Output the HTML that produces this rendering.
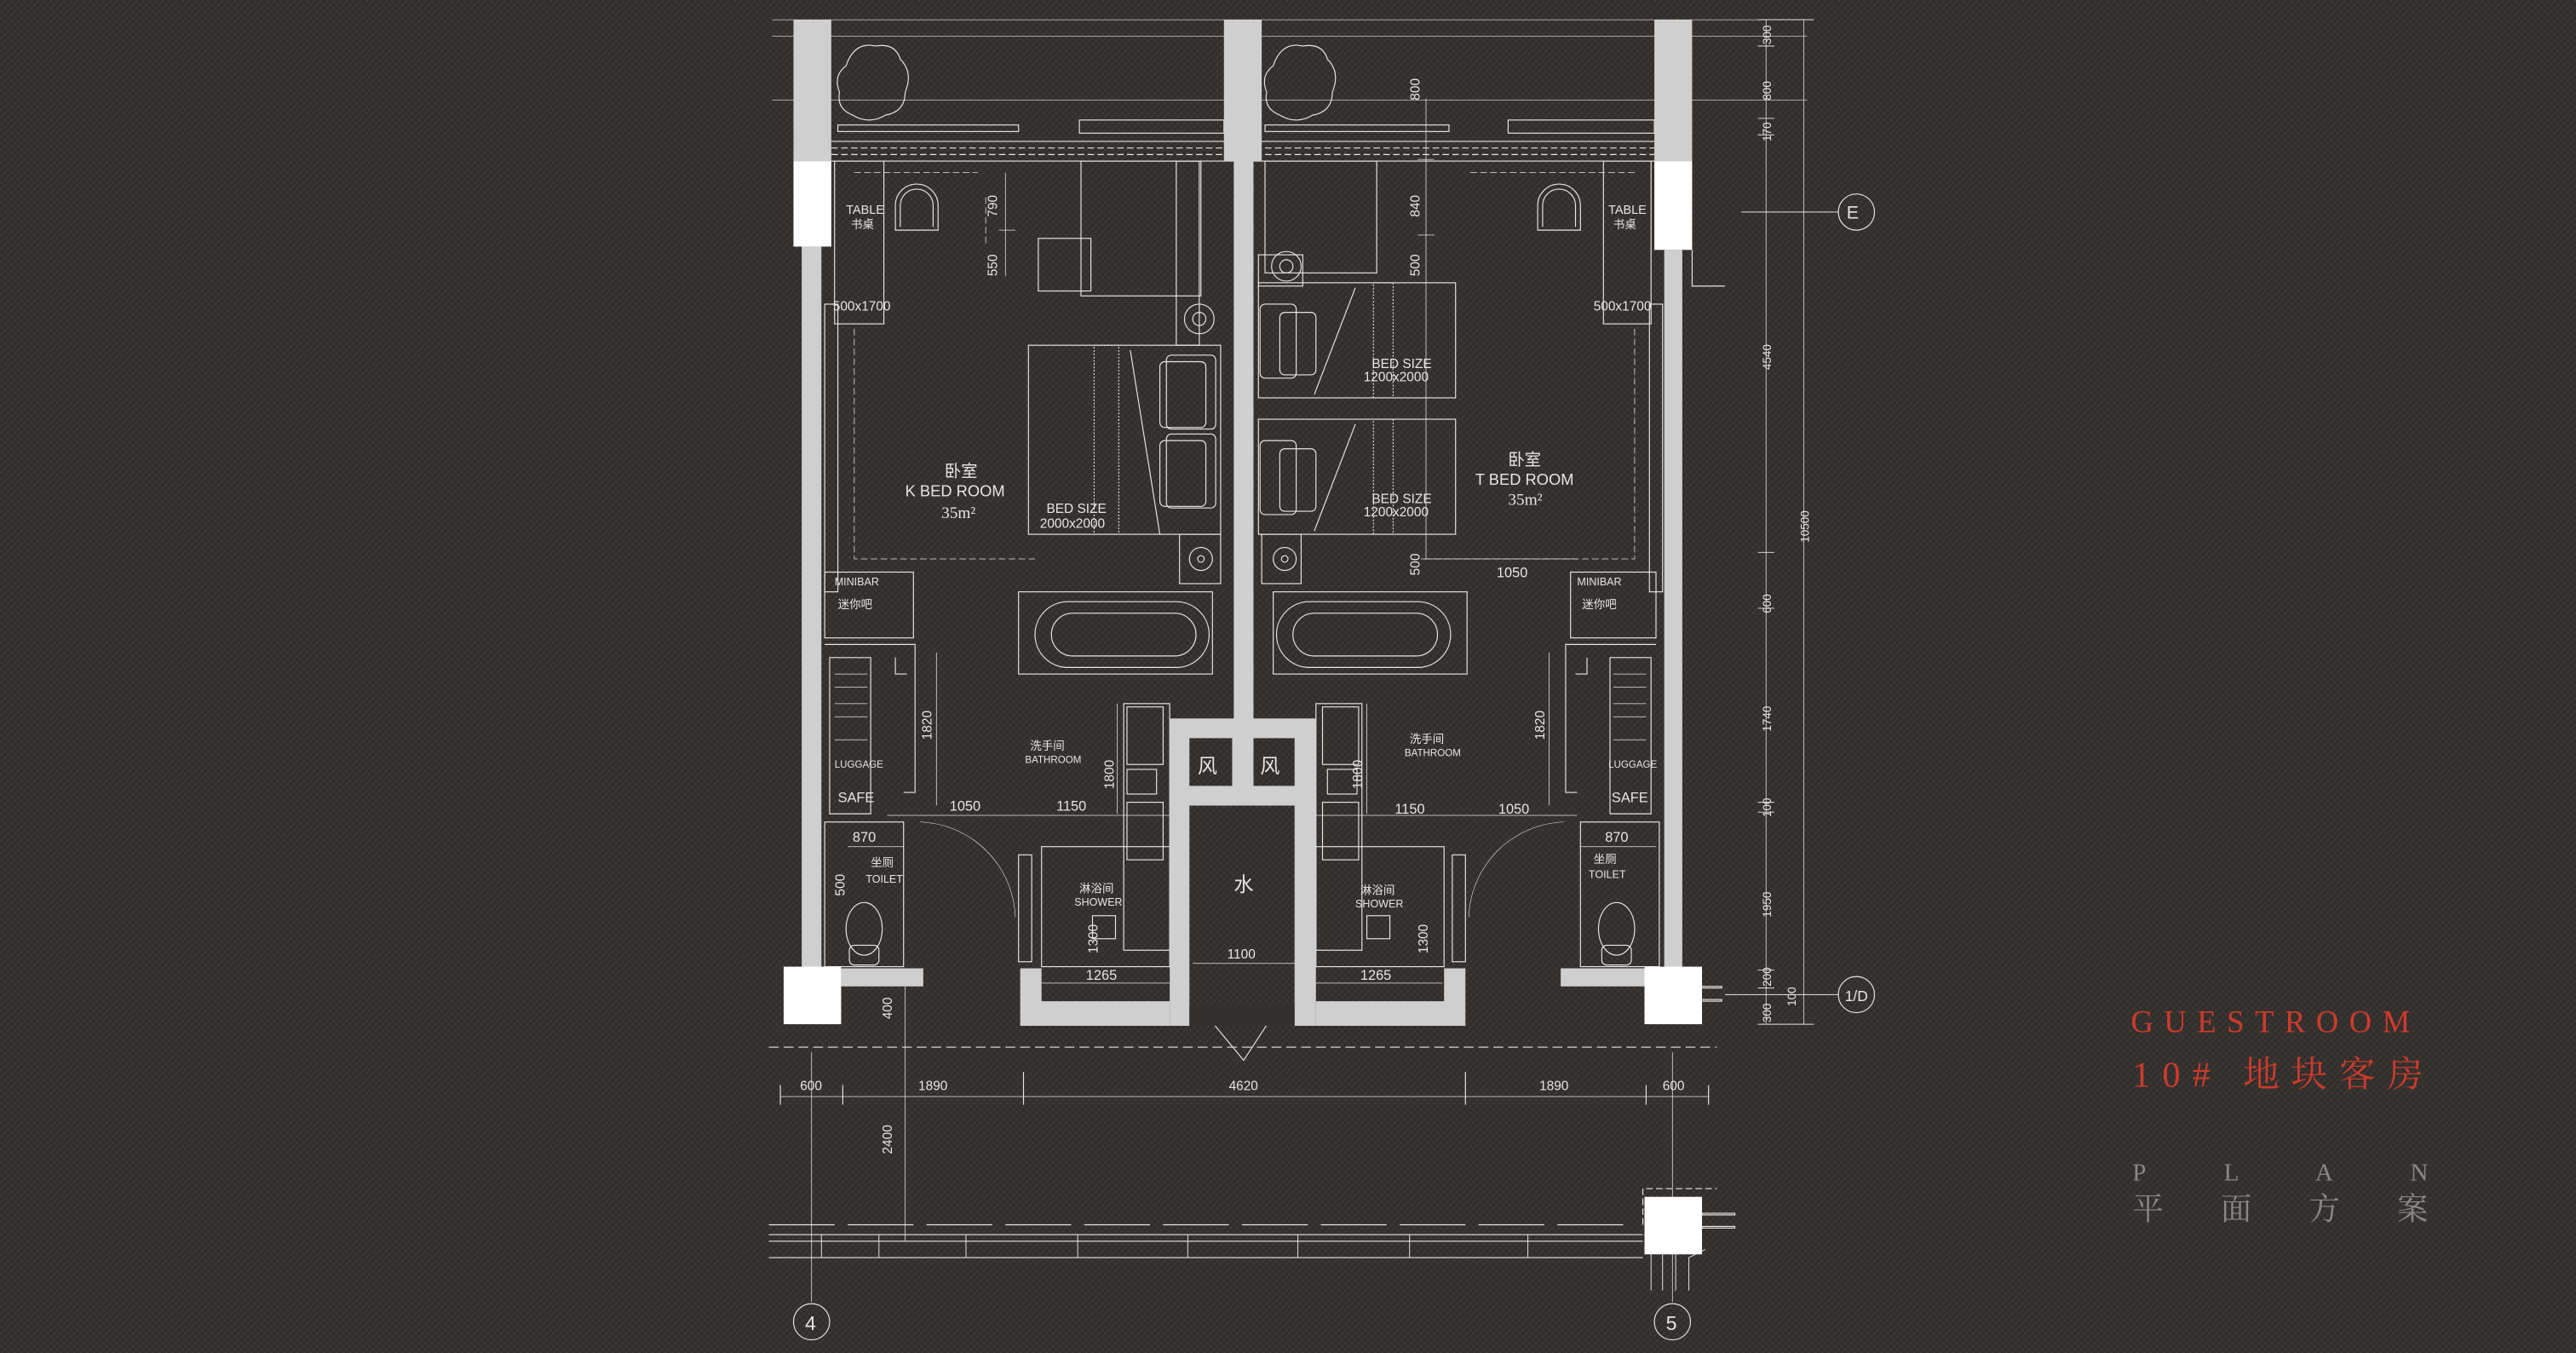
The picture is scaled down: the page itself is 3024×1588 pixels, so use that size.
<!DOCTYPE html>
<html><head><meta charset="utf-8"><style>
html,body{margin:0;padding:0;background:#34302e;}
svg{display:block;}
text{font-family:"Liberation Sans","Noto Sans CJK SC",sans-serif;fill:#e6e6e6;}
.s{font-family:"Liberation Serif","Noto Serif CJK SC",serif;}
</style></head><body>
<svg width="3024" height="1588" viewBox="0 0 1568 823" preserveAspectRatio="none" xmlns="http://www.w3.org/2000/svg">
<defs>
<pattern id="tx" width="4" height="4" patternUnits="userSpaceOnUse">
<rect width="4" height="4" fill="#34302e"/>
<path d="M0 4L4 0" stroke="#3e3a37" stroke-width="0.8"/>
<path d="M0 0L4 4" stroke="#2c2927" stroke-width="0.5"/>
</pattern>
</defs>
<rect width="1568" height="823" fill="url(#tx)"/>

<g stroke="#e6e6e6" stroke-width="0.6" fill="none">
<line x1="470" y1="12" x2="1100" y2="12" stroke-width="0.3"/>
<line x1="470" y1="22" x2="1100" y2="22" stroke-width="0.3"/>
<line x1="470" y1="61" x2="1100" y2="61" stroke-width="0.3"/>
<line x1="506" y1="86" x2="1007" y2="86"/>
<line x1="506" y1="90" x2="1007" y2="90" stroke-dasharray="4 2"/>
<line x1="506" y1="94" x2="1007" y2="94" stroke-dasharray="4 2"/>
<line x1="506" y1="98" x2="1007" y2="98"/>
<rect x="510" y="76" width="110" height="4"/>
<rect x="657" y="73" width="88" height="8"/>
<rect x="770" y="76" width="112" height="4"/>
<rect x="918" y="73" width="89" height="8"/>
<path d="M515 40 q5-15 18-12 q12-2 15 8 q8 8 3 20 q0 12-12 14 q-10 6-20 0 q-10-4-8-14 q-4-10 4-16z"/>
<path d="M775 40 q5-15 18-12 q12-2 15 8 q8 8 3 20 q0 12-12 14 q-10 6-20 0 q-10-4-8-14 q-4-10 4-16z"/>
<rect x="508" y="98" width="30" height="99"/>
<rect x="976" y="98" width="29" height="99"/>
<path d="M545 140 v-15 a13 13 0 0 1 26 0 v15 z"/>
<path d="M548 138 v-13 a10 10 0 0 1 20 0 v13"/>
<path d="M936 140 v-15 a13 13 0 0 1 26 0 v15 z"/>
<path d="M939 138 v-13 a10 10 0 0 1 20 0 v13"/>
<path d="M520 105 h75 M600 120 v30 M520 200 V340 h110 M520 365" stroke-dasharray="4 2" stroke-width="0.4"/>
<path d="M895 105 h100 M995 200 V340 h-130" stroke-dasharray="4 2" stroke-width="0.4"/>
<rect x="658" y="98" width="73" height="82"/>
<rect x="632" y="145" width="32" height="32"/>
<rect x="716" y="98" width="14" height="112"/>
<circle cx="730" cy="194" r="9"/><circle cx="730" cy="194" r="4"/>
<rect x="770" y="98" width="68" height="68"/>
<circle cx="783" cy="162" r="9"/><circle cx="783" cy="162" r="4"/>
<rect x="766" y="155" width="27" height="19"/>
<rect x="626" y="210" width="117" height="115"/>
<rect x="666" y="210" width="15" height="115" stroke-dasharray="1 1"/>
<line x1="688" y1="213" x2="706" y2="325"/>
<rect x="706" y="220" width="28" height="40" rx="3"/>
<rect x="706" y="268" width="28" height="40" rx="3"/>
<rect x="710" y="216" width="30" height="45" rx="3"/>
<rect x="710" y="264" width="30" height="45" rx="3"/>
<rect x="718" y="325" width="25" height="30"/>
<circle cx="731" cy="340" r="7"/><circle cx="731" cy="340" r="2"/>
<rect x="766" y="172" width="120" height="70"/>
<rect x="766" y="255" width="120" height="70"/>
<rect x="836" y="172" width="12" height="70" stroke-dasharray="1 1"/>
<rect x="836" y="255" width="12" height="70" stroke-dasharray="1 1"/>
<line x1="800" y1="240" x2="825" y2="175"/>
<line x1="800" y1="323" x2="825" y2="258"/>
<rect x="767" y="185" width="22" height="45" rx="3"/>
<rect x="779" y="190" width="22" height="38" rx="3"/>
<rect x="767" y="268" width="22" height="45" rx="3"/>
<rect x="779" y="273" width="22" height="38" rx="3"/>
<rect x="768" y="325" width="24" height="30"/>
<circle cx="782" cy="340" r="7"/><circle cx="782" cy="340" r="2"/>
<rect x="502" y="185" width="8" height="175"/>
<rect x="1004" y="185" width="8" height="175"/>
<rect x="502" y="348" width="54" height="40"/>
<rect x="956" y="348" width="52" height="40"/>
<path d="M502 392 h55 v90 h-7 M545 400 v10 h7 M505 400 h25 v95 h-25z"/>
<path d="M1008 392 h-55 v90 h7 M966 400 v10 h-7 M1005 400 h-25 v95 h25z"/>
<g stroke-width="0.4">
<line x1="508" y1="410" x2="528" y2="410"/><line x1="508" y1="418" x2="528" y2="418"/><line x1="508" y1="428" x2="528" y2="428"/><line x1="508" y1="436" x2="528" y2="436"/><line x1="508" y1="450" x2="528" y2="450"/>
<line x1="982" y1="410" x2="1002" y2="410"/><line x1="982" y1="418" x2="1002" y2="418"/><line x1="982" y1="428" x2="1002" y2="428"/><line x1="982" y1="436" x2="1002" y2="436"/><line x1="982" y1="450" x2="1002" y2="450"/>
</g>
<rect x="620" y="360" width="118" height="50"/>
<rect x="630" y="366" width="106" height="40" rx="20"/>
<rect x="640" y="373" width="88" height="26" rx="13"/>
<rect x="775" y="360" width="118" height="50"/>
<rect x="777" y="366" width="106" height="40" rx="20"/>
<rect x="787" y="373" width="88" height="26" rx="13"/>
<rect x="684" y="428" width="28" height="150"/>
<rect x="686" y="430" width="22" height="35"/><rect x="686" y="488" width="22" height="35"/>
<rect x="686" y="468" width="18" height="15"/>
<rect x="801" y="428" width="28" height="150"/>
<rect x="805" y="430" width="22" height="35"/><rect x="805" y="488" width="22" height="35"/>
<rect x="808" y="468" width="18" height="15"/>
<rect x="634" y="515" width="78" height="73"/>
<rect x="665" y="557" width="14" height="14"/>
<rect x="801" y="515" width="78" height="73"/>
<rect x="832" y="557" width="14" height="14"/>
<rect x="620" y="520" width="8" height="65"/><rect x="884" y="520" width="8" height="65"/>
<rect x="502" y="500" width="48" height="88"/>
<ellipse cx="526" cy="565" rx="11" ry="16"/>
<rect x="517" y="575" width="18" height="12" rx="3"/>
<rect x="962" y="500" width="48" height="88"/>
<ellipse cx="984" cy="565" rx="11" ry="16"/>
<rect x="975" y="575" width="18" height="12" rx="3"/>
<path d="M560 500 a60 60 0 0 1 58 58" stroke-width="0.3"/>
<path d="M952 500 a60 60 0 0 0 -58 58" stroke-width="0.3"/>
<path d="M738 622 L757 645 L772 622"/>
<path d="M1030 152 v22 h20" />
<rect x="1030" y="600" width="18" height="1"/><rect x="1030" y="608" width="18" height="1"/>
<rect x="1036" y="738" width="20" height="1"/><rect x="1036" y="746" width="20" height="1"/>
<line x1="468" y1="637" x2="1045" y2="637" stroke-dasharray="6 3"/>
<line x1="468" y1="745" x2="995" y2="745" stroke-dasharray="40 8"/>
<path d="M1000 745 V723 h45" stroke-dasharray="4 2"/>
<line x1="468" y1="751" x2="1000" y2="751"/>
<line x1="468" y1="755" x2="1000" y2="755"/>
<line x1="468" y1="765" x2="1000" y2="765"/>
<g stroke-width="0.5">
<line x1="500" y1="751" x2="500" y2="765"/><line x1="535" y1="751" x2="535" y2="765"/><line x1="588" y1="751" x2="588" y2="765"/><line x1="656" y1="751" x2="656" y2="765"/><line x1="723" y1="751" x2="723" y2="765"/><line x1="790" y1="751" x2="790" y2="765"/><line x1="858" y1="751" x2="858" y2="765"/><line x1="930" y1="751" x2="930" y2="765"/>
<line x1="1005" y1="763" x2="1005" y2="785"/><line x1="1012" y1="763" x2="1012" y2="785"/><line x1="1020" y1="763" x2="1020" y2="785"/><path d="M1028 785 v-20 l10-5"/>
</g>
<line x1="475" y1="667" x2="1040" y2="667" stroke-width="0.4"/>
<g stroke-width="0.6">
<line x1="475" y1="660" x2="475" y2="672"/><line x1="513" y1="660" x2="513" y2="672"/><line x1="623" y1="652" x2="623" y2="672"/><line x1="892" y1="652" x2="892" y2="672"/><line x1="1002" y1="660" x2="1002" y2="672"/><line x1="1040" y1="660" x2="1040" y2="672"/>
</g>
<line x1="494" y1="640" x2="494" y2="792" stroke-width="0.4"/>
<line x1="1018" y1="640" x2="1018" y2="792" stroke-width="0.4"/>
<line x1="551" y1="600" x2="551" y2="755" stroke-width="0.4"/>
<circle cx="494" cy="804" r="11"/>
<circle cx="1018" cy="804" r="11"/>
<line x1="1098" y1="12" x2="1098" y2="623" stroke-width="0.4"/>
<line x1="1075" y1="12" x2="1075" y2="623" stroke-width="0.4"/>
<g stroke-width="0.5">
<line x1="1070" y1="12" x2="1104" y2="12"/><line x1="1070" y1="28" x2="1080" y2="28"/><line x1="1070" y1="72" x2="1080" y2="72"/><line x1="1070" y1="82" x2="1080" y2="82"/>
<line x1="1070" y1="336" x2="1080" y2="336"/><line x1="1070" y1="370" x2="1080" y2="370"/><line x1="1070" y1="488" x2="1080" y2="488"/><line x1="1070" y1="494" x2="1080" y2="494"/>
<line x1="1070" y1="590" x2="1080" y2="590"/><line x1="1070" y1="601" x2="1080" y2="601"/><line x1="1070" y1="623" x2="1104" y2="623"/>
<line x1="1060" y1="129" x2="1119" y2="129"/><line x1="1050" y1="605" x2="1119" y2="605"/>
</g>
<circle cx="1130" cy="129" r="11"/>
<circle cx="1130" cy="605" r="11"/>
<g stroke-width="0.4">
<line x1="612" y1="105" x2="612" y2="168"/><line x1="608" y1="140" x2="618" y2="140"/>
<line x1="868" y1="60" x2="868" y2="340"/><line x1="863" y1="143" x2="873" y2="143"/><line x1="863" y1="97" x2="873" y2="97"/>
<line x1="865" y1="340" x2="960" y2="340"/>
<line x1="570" y1="397" x2="570" y2="490"/><line x1="943" y1="397" x2="943" y2="490"/>
<line x1="680" y1="428" x2="680" y2="495"/><line x1="832" y1="428" x2="832" y2="495"/>
<line x1="540" y1="496" x2="712" y2="496"/><line x1="801" y1="496" x2="960" y2="496"/>
<line x1="516" y1="515" x2="550" y2="515"/><line x1="962" y1="515" x2="1008" y2="515"/>
<line x1="726" y1="586" x2="788" y2="586"/>
<line x1="634" y1="598" x2="712" y2="598"/><line x1="801" y1="598" x2="878" y2="598"/>
</g>
</g>

<g fill="#cfcfcf">
<rect x="483" y="12" width="23" height="86"/>
<rect x="745" y="12" width="23" height="86"/>
<rect x="1007" y="12" width="23" height="86"/>
<rect x="488" y="150" width="12" height="440"/>
<rect x="751" y="98" width="12" height="340"/>
<rect x="1013" y="152" width="11" height="438"/>
<rect x="512" y="589" width="50" height="11"/>
<rect x="950" y="589" width="51" height="11"/>
<path fill-rule="evenodd" d="M712 437 H801 V624 H788 V611 H724 V624 H712 Z M724 449 H750 V478 H724 Z M763 449 H788 V478 H763 Z M724 490 H788 V611 H724 Z"/>
<path d="M621 589 H634 V609 H712 V624 H621 Z"/>
<path d="M892 589 H879 V609 H801 V624 H892 Z"/>
</g>
<g fill="#ffffff">
<rect x="483" y="98" width="23" height="52"/>
<rect x="1007" y="98" width="23" height="54"/>
<rect x="477" y="588" width="35" height="35"/>
<rect x="1001" y="588" width="35" height="35"/>
<rect x="1001" y="728" width="35" height="35"/>
</g>
<rect x="724" y="611" width="64" height="13" fill="#34302e"/>

<g font-size="7.5">
<text x="515" y="130">TABLE</text><text x="518" y="139" font-size="7">书桌</text>
<text x="979" y="130">TABLE</text><text x="982" y="139" font-size="7">书桌</text>
<text x="507" y="189" font-size="8">500x1700</text>
<text x="970" y="189" font-size="8">500x1700</text>
<text x="575" y="290" font-size="10">卧室</text>
<text x="551" y="302" font-size="9.5">K BED ROOM</text>
<text x="573" y="315" font-size="10" class="s">35m²</text>
<text x="918" y="283" font-size="10">卧室</text>
<text x="898" y="295" font-size="9.5">T BED ROOM</text>
<text x="918" y="307" font-size="10" class="s">35m²</text>
<text x="637" y="312" font-size="8">BED SIZE</text><text x="633" y="321" font-size="8">2000x2000</text>
<text x="835" y="224" font-size="8">BED SIZE</text><text x="830" y="232" font-size="8">1200x2000</text>
<text x="835" y="306" font-size="8">BED SIZE</text><text x="830" y="314" font-size="8">1200x2000</text>
<text x="508" y="356" font-size="6.5">MINIBAR</text><text x="510" y="370" font-size="7">迷你吧</text>
<text x="960" y="356" font-size="6.5">MINIBAR</text><text x="963" y="370" font-size="7">迷你吧</text>
<text x="508" y="467" font-size="6">LUGGAGE</text><text x="510" y="488" font-size="8.5">SAFE</text>
<text x="979" y="467" font-size="6">LUGGAGE</text><text x="981" y="488" font-size="8.5">SAFE</text>
<text x="627" y="456" font-size="7">洗手间</text><text x="624" y="464" font-size="6">BATHROOM</text>
<text x="858" y="452" font-size="7">洗手间</text><text x="855" y="460" font-size="6">BATHROOM</text>
<text x="530" y="527" font-size="7">坐厕</text><text x="527" y="537" font-size="6.5">TOILET</text>
<text x="970" y="525" font-size="7">坐厕</text><text x="967" y="534" font-size="6.5">TOILET</text>
<text x="657" y="543" font-size="7">淋浴间</text><text x="654" y="551" font-size="6.5">SHOWER</text>
<text x="828" y="544" font-size="7">淋浴间</text><text x="825" y="552" font-size="6.5">SHOWER</text>
<text x="729" y="470" font-size="12">风</text><text x="767" y="470" font-size="12">风</text>
<text x="751" y="542" font-size="12">水</text>
<text x="578" y="493" font-size="8.5">1050</text><text x="643" y="493" font-size="8.5">1150</text>
<text x="849" y="495" font-size="8.5">1150</text><text x="912" y="495" font-size="8.5">1050</text>
<text x="519" y="512" font-size="8.5">870</text><text x="977" y="512" font-size="8.5">870</text>
<text x="747" y="583" font-size="8">1100</text>
<text x="661" y="596" font-size="8.5">1265</text><text x="828" y="596" font-size="8.5">1265</text>
<text x="911" y="351" font-size="8.5">1050</text>
<text x="487" y="663" font-size="8">600</text><text x="559" y="663" font-size="8">1890</text><text x="748" y="663" font-size="8">4620</text><text x="937" y="663" font-size="8">1890</text><text x="1012" y="663" font-size="8">600</text>
<text x="490" y="809" font-size="12">4</text><text x="1014" y="809" font-size="12">5</text>
<text x="1124" y="133" font-size="11">E</text>
<text x="1123" y="609" font-size="9">1/D</text>
</g>
<g font-size="8">
<text transform="translate(607,132) rotate(-90)">790</text>
<text transform="translate(607,168) rotate(-90)">550</text>
<text transform="translate(864,61) rotate(-90)">800</text>
<text transform="translate(864,132) rotate(-90)">840</text>
<text transform="translate(864,168) rotate(-90)">500</text>
<text transform="translate(864,350) rotate(-90)">500</text>
<text transform="translate(567,450) rotate(-90)">1820</text>
<text transform="translate(940,450) rotate(-90)">1820</text>
<text transform="translate(678,480) rotate(-90)">1800</text>
<text transform="translate(829,480) rotate(-90)">1800</text>
<text transform="translate(668,580) rotate(-90)">1300</text>
<text transform="translate(869,580) rotate(-90)">1300</text>
<text transform="translate(514,545) rotate(-90)">500</text>
<text transform="translate(543,620) rotate(-90)">400</text>
<text transform="translate(543,702) rotate(-90)">2400</text>
<text transform="translate(1078,27) rotate(-90)" font-size="7">300</text>
<text transform="translate(1078,61) rotate(-90)" font-size="7">800</text>
<text transform="translate(1078,86) rotate(-90)" font-size="7">170</text>
<text transform="translate(1078,225) rotate(-90)" font-size="7">4540</text>
<text transform="translate(1101,330) rotate(-90)" font-size="7">10500</text>
<text transform="translate(1078,373) rotate(-90)" font-size="7">600</text>
<text transform="translate(1078,445) rotate(-90)" font-size="7">1740</text>
<text transform="translate(1078,497) rotate(-90)" font-size="7">100</text>
<text transform="translate(1078,558) rotate(-90)" font-size="7">1950</text>
<text transform="translate(1078,600) rotate(-90)" font-size="7">200</text>
<text transform="translate(1078,622) rotate(-90)" font-size="7">300</text>
<text transform="translate(1093,612) rotate(-90)" font-size="7">100</text>
</g>

<text x="1297" y="628" class="s" font-size="19" style="fill:#cc3b2c" textLength="170" lengthAdjust="spacing">GUESTROOM</text>
<text x="1298" y="661" class="s" font-size="22" style="fill:#cc3b2c" textLength="177" lengthAdjust="spacing">10# 地块客房</text>
<text x="1298" y="718" class="s" font-size="15" style="fill:#8a8785" textLength="180" lengthAdjust="spacing">P L A N</text>
<text x="1298" y="742" class="s" font-size="19" style="fill:#8a8785" textLength="180" lengthAdjust="spacing">平 面 方 案</text>
</svg>
</body></html>
